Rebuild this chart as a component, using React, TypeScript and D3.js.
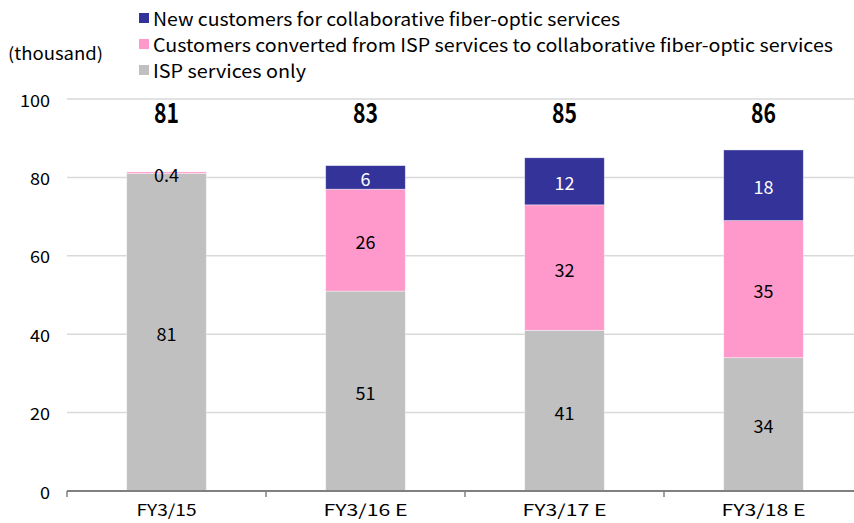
import React from "react";
import * as d3 from "d3";

const categories = ["FY3/15", "FY3/16 E", "FY3/17 E", "FY3/18 E"];
const ispOnly = [81, 51, 41, 34];
const converted = [0.4, 26, 32, 35];
const newCustomers = [0, 6, 12, 18];
const totalLabels = ["81", "83", "85", "86"];
const convertedLabels = ["0.4", "26", "32", "35"];
const yTicks = [0, 20, 40, 60, 80, 100];
const seriesNames = [
  "New customers for collaborative fiber-optic services",
  "Customers converted from ISP services to collaborative fiber-optic services",
  "ISP services only",
];
const colors = ["#333399", "#FF99CC", "#C0C0C0"];

const W = 854;
const H = 523;
const FONT = "'Noto Sans CJK JP', 'Noto Sans', sans-serif";
const widen = (s: string, size: number, k: number) => s.length * size * k;

export default function App() {
  const x = d3.scaleBand<string>().domain(categories).range([67, 863]).padding(0);
  const y = d3.scaleLinear().domain([0, 100]).range([491, 99]);
  const bw = x.bandwidth() * 0.4;

  const stacks = categories.map((c, i) => {
    const segs = [
      { v: ispOnly[i], color: colors[2], label: String(ispOnly[i]), fill: "#000" },
      { v: converted[i], color: colors[1], label: convertedLabels[i], fill: "#000" },
      { v: newCustomers[i], color: colors[0], label: String(newCustomers[i]), fill: "#fff" },
    ];
    let acc = 0;
    return segs.map((s) => {
      const y0 = acc;
      acc += s.v;
      return { ...s, y0, y1: acc };
    });
  });

  return (
    <svg
      width={W}
      height={H}
      style={{ position: "absolute", left: 0, top: 0, background: "#fff" }}
      fontFamily={FONT}
    >
      {yTicks.filter((t) => t > 0).map((t) => (
        <line key={t} x1={67} x2={W} y1={y(t)} y2={y(t)} stroke="#d9d9d9" strokeWidth={1.5} />
      ))}
      {yTicks.map((t) => (
        <text
          key={t}
          x={50}
          y={y(t)}
          textAnchor="end"
          dominantBaseline="central"
          fontSize={17}
          fill="#000"
          textLength={widen(String(t), 17, 0.59)}
          lengthAdjust="spacingAndGlyphs"
        >
          {t}
        </text>
      ))}
      <text x={8} y={52} dominantBaseline="central" fontSize={17} fill="#000" textLength={95} lengthAdjust="spacingAndGlyphs">
        (thousand)
      </text>

      {stacks.map((segs, i) => {
        const cx = (x(categories[i]) as number) + x.bandwidth() / 2;
        return (
          <g key={i}>
            {segs.map((s, j) =>
              s.v > 0 ? (
                <rect
                  key={j}
                  x={cx - bw / 2}
                  y={y(s.y1)}
                  width={bw}
                  height={y(s.y0) - y(s.y1)}
                  fill={s.color}
                  stroke="#fff"
                  strokeOpacity={0.5}
                  strokeWidth={0.75}
                />
              ) : null
            )}
            {segs.map((s, j) =>
              s.v > 0 ? (
                <text
                  key={"t" + j}
                  x={cx}
                  y={y((s.y0 + s.y1) / 2) + 1}
                  textAnchor="middle"
                  dominantBaseline="central"
                  fontSize={18}
                  fill={s.fill}
                >
                  {s.label}
                </text>
              ) : null
            )}
            <text
              x={cx}
              y={111}
              textAnchor="middle"
              dominantBaseline="central"
              fontSize={27}
              fontWeight="bold"
              fill="#000"
              textLength={25}
              lengthAdjust="spacingAndGlyphs"
            >
              {totalLabels[i]}
            </text>
            <text
              x={cx}
              y={516}
              textAnchor="middle"
              fontSize={16}
              fill="#000"
              textLength={i === 0 ? 60 : 84}
              lengthAdjust="spacingAndGlyphs"
            >
              {categories[i]}
            </text>
          </g>
        );
      })}

      <line x1={67} x2={W} y1={y(0)} y2={y(0)} stroke="#808080" strokeWidth={2} />
      {categories.concat(["end"]).map((c, i) => {
        const tx = 67 + i * x.bandwidth();
        return <line key={c} x1={tx} x2={tx} y1={y(0)} y2={y(0) + 6} stroke="#808080" strokeWidth={1.5} />;
      })}

      {seriesNames.map((n, i) => (
        <g key={n}>
          <rect x={139} y={18 + i * 26 - 5} width={10} height={10} fill={colors[i]} />
          <text
            x={153}
            y={18 + i * 26}
            dominantBaseline="central"
            fontSize={18}
            fill="#000"
            textLength={[467, 680, 153][i]}
            lengthAdjust="spacingAndGlyphs"
          >
            {n}
          </text>
        </g>
      ))}
    </svg>
  );
}
